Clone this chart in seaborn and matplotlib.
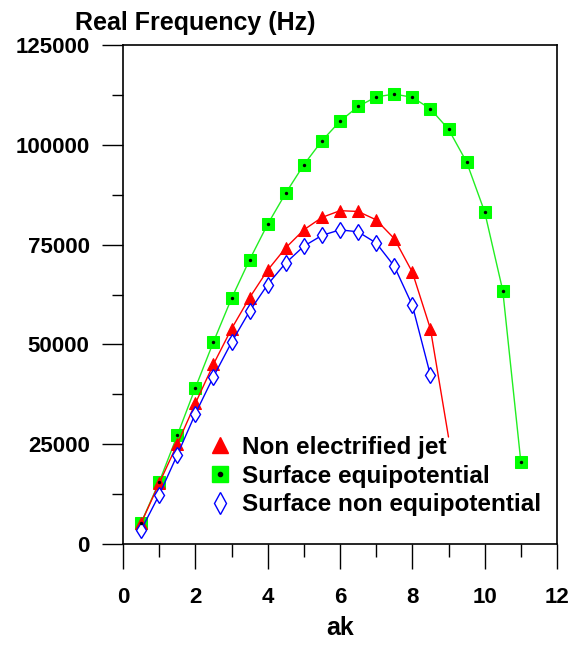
import matplotlib
matplotlib.use('Agg')
import matplotlib.pyplot as plt
from matplotlib.lines import Line2D
from matplotlib.ticker import MultipleLocator
import seaborn as sns

# data
ak_green = [0.5, 1.0, 1.5, 2.0, 2.5, 3.0, 3.5, 4.0, 4.5, 5.0, 5.5,
            6.0, 6.5, 7.0, 7.5, 8.0, 8.5, 9.0, 9.5, 10.0, 10.5, 11.0]
surface_equi = [5300, 15500, 27200, 39100, 50600, 61500, 71200, 80100, 87900, 95000, 101000,
                105900, 109600, 112000, 112700, 111900, 109000, 103900, 95700, 83200, 63500, 20600]

ak_red = [0.5, 1.0, 1.5, 2.0, 2.5, 3.0, 3.5, 4.0, 4.5, 5.0, 5.5,
          6.0, 6.5, 7.0, 7.5, 8.0, 8.5, 9.0]
non_electrified = [5200, 15200, 25000, 35200, 45000, 53900, 61700, 68600, 74200, 78700, 81800,
                   83500, 83300, 81200, 76500, 68100, 53900, 26800]

ak_blue = [0.5, 1.0, 1.5, 2.0, 2.5, 3.0, 3.5, 4.0, 4.5, 5.0, 5.5,
           6.0, 6.5, 7.0, 7.5, 8.0, 8.5]
surface_non_equi = [3500, 12300, 22300, 32600, 41900, 50500, 58300, 65000, 70400, 74600, 77300,
                    78700, 78200, 75400, 69600, 59800, 42300]

labels = ['Non electrified jet', 'Surface equipotential', 'Surface non equipotential']

sns.set_style('ticks')
plt.rcParams['font.family'] = ['Liberation Sans', 'DejaVu Sans']
plt.rcParams['font.weight'] = 'bold'
plt.rcParams['text.color'] = 'black'

fig = plt.figure(figsize=(5.7, 6.48), dpi=100)
ax = fig.add_axes([123/570, 1 - 544/648, (557 - 123)/570, (544 - 45)/648])

# green: surface equipotential
sns.lineplot(x=ak_green, y=surface_equi, color='#22ee22', linewidth=1, ax=ax,
             marker='s', markersize=8, markerfacecolor='#00ff00', markeredgecolor='#00ff00', zorder=3)
sns.scatterplot(x=ak_green, y=surface_equi, color='black', s=6, linewidth=0, ax=ax, zorder=4)

# red: non electrified jet (last point is line only)
sns.lineplot(x=ak_red, y=non_electrified, color='red', linewidth=1, ax=ax,
             marker='^', markersize=8, markeredgecolor='red', markevery=list(range(17)), zorder=3)

# blue: surface non equipotential
sns.lineplot(x=ak_blue, y=surface_non_equi, color='blue', linewidth=1, ax=ax,
             marker='d', markersize=8, markerfacecolor='white', markeredgecolor='blue',
             markeredgewidth=1, zorder=3)

ax.set_xlim(0, 12)
ax.set_ylim(0, 125000)
ax.xaxis.set_major_locator(MultipleLocator(2))
ax.xaxis.set_minor_locator(MultipleLocator(1))
ax.yaxis.set_major_locator(MultipleLocator(25000))
ax.yaxis.set_minor_locator(MultipleLocator(12500))
ax.tick_params(axis='x', which='major', direction='out', length=18, width=1, pad=13,
               labelsize=16, color='black', labelcolor='black')
ax.tick_params(axis='x', which='minor', direction='out', length=9, width=1, color='black')
ax.tick_params(axis='y', which='major', direction='out', length=15, width=1, pad=9,
               labelsize=16, color='black', labelcolor='black')
ax.tick_params(axis='y', which='minor', direction='out', length=8, width=1, color='black')
for lab in ax.get_xticklabels() + ax.get_yticklabels():
    lab.set_fontweight('bold')
for sp in ax.spines.values():
    sp.set_visible(True)
    sp.set_linewidth(1.2)
    sp.set_color('black')

ax.set_xlabel('ak', fontsize=18, fontweight='bold', labelpad=6, color='black')
ax.set_ylabel('')
fig.text(75/570, 1 - 30/648, 'Real Frequency (Hz)', fontsize=18, fontweight='bold',
         va='baseline', color='black')

handles = [
    Line2D([], [], marker='^', color='red', linestyle='none', markersize=11),
    (Line2D([], [], marker='s', color='#00ff00', linestyle='none', markersize=11),
     Line2D([], [], marker='o', color='black', linestyle='none', markersize=3)),
    Line2D([], [], marker='d', color='blue', markerfacecolor='white', linestyle='none', markersize=11),
]
ax.legend(handles, labels, loc='upper left', bbox_to_anchor=(208/570, 1 - 436/648),
          bbox_transform=fig.transFigure, frameon=False, handlelength=1.0, handletextpad=0.4,
          labelspacing=0.23, borderpad=0, borderaxespad=0,
          prop={'family': 'Liberation Sans', 'weight': 'bold', 'size': 17.5})

plt.savefig('out.png', dpi=100)
